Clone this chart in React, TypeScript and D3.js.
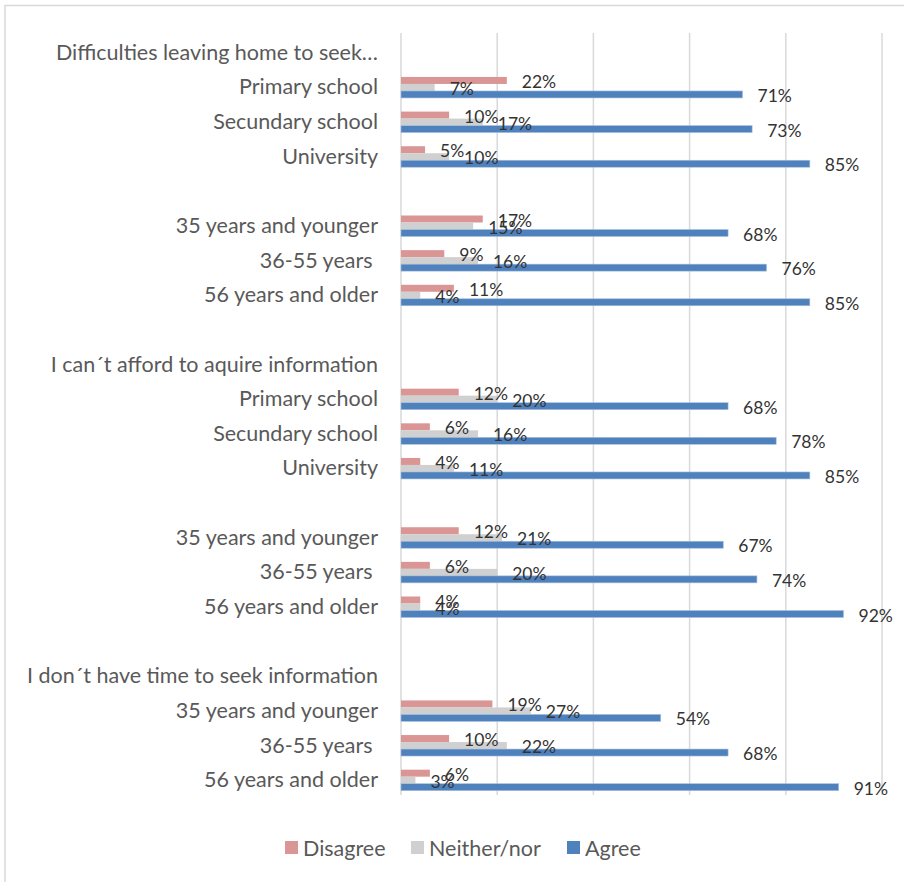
import React from "react";
import * as d3 from "d3";

const categories: string[] = [
  "Difficulties leaving home to seek…",
  "Primary school",
  "Secundary school",
  "University",
  "",
  "35 years and younger",
  "36-55 years ",
  "56 years and older",
  "",
  "I can´t afford to aquire information",
  "Primary school",
  "Secundary school",
  "University",
  "",
  "35 years and younger",
  "36-55 years ",
  "56 years and older",
  "",
  "I don´t have time to seek information",
  "35 years and younger",
  "36-55 years ",
  "56 years and older",
];

const disagree: (number | null)[] = [null, 22, 10, 5, null, 17, 9, 11, null, null, 12, 6, 4, null, 12, 6, 4, null, null, 19, 10, 6];
const neither: (number | null)[] = [null, 7, 17, 10, null, 15, 16, 4, null, null, 20, 16, 11, null, 21, 20, 4, null, null, 27, 22, 3];
const agree: (number | null)[] = [null, 71, 73, 85, null, 68, 76, 85, null, null, 68, 78, 85, null, 67, 74, 92, null, null, 54, 68, 91];

const seriesNames = ["Disagree", "Neither/nor", "Agree"];
const seriesColors = ["#DA9694", "#D0D0D0", "#4F81BD"];
const xTicks = [0, 20, 40, 60, 80, 100];

const FONT = "Lato, 'Open Sans', sans-serif";

export default function App() {
  const W = 904;
  const H = 882;
  const x = d3.scaleLinear().domain([0, 100]).range([401, 882]);
  const y = d3
    .scaleBand<string>()
    .domain(categories.map((_, i) => String(i)))
    .range([34, 796])
    .padding(0);
  const inner = d3.scaleBand<string>().domain(["0", "1", "2"]).range([-10.5, 10.5]).padding(0);
  const series = [disagree, neither, agree];

  return (
    <svg
      width={W}
      height={H}
      style={{ position: "absolute", left: 0, top: 0, background: "#fff" }}
      fontFamily={FONT}
    >
      <rect x={5} y={5.5} width={W + 10} height={H + 10} fill="#fff" stroke="#D9D9D9" strokeWidth={1.5} />
      {xTicks.map((t) => (
        <line key={t} x1={x(t)} x2={x(t)} y1={33} y2={795} stroke="#D9D9D9" strokeWidth={1.5} />
      ))}
      {categories.map((c, i) => (
        <text
          key={"c" + i}
          x={378}
          y={(y(String(i)) ?? 0) + y.bandwidth() / 2 + 0.5}
          textAnchor="end"
          dominantBaseline="central"
          fontSize={21.5}
          fill="#595959"
          style={{ whiteSpace: "pre" }}
        >
          {c}
        </text>
      ))}
      {series.map((vals, s) =>
        vals.map((v, i) => {
          if (v == null) return null;
          const cy = (y(String(i)) ?? 0) + y.bandwidth() / 2 + 1.5 + (inner(String(s)) ?? 0);
          return (
            <rect
              key={`b${s}-${i}`}
              x={x(0)}
              y={cy}
              width={x(v) - x(0)}
              height={inner.bandwidth()}
              fill={seriesColors[s]}
              stroke={s === 2 ? "#A9C0DE" : "none"}
              strokeWidth={s === 2 ? 0.6 : 0}
            />
          );
        })
      )}
      {series.map((vals, s) =>
        vals.map((v, i) => {
          if (v == null) return null;
          const cy = (y(String(i)) ?? 0) + y.bandwidth() / 2 + 1.5 + (inner(String(s)) ?? 0) + inner.bandwidth() / 2;
          return (
            <text
              key={`l${s}-${i}`}
              x={x(v) + 15}
              y={cy + 1}
              dominantBaseline="central"
              fontSize={17.5}
              fill="#333333"
            >
              {v + "%"}
            </text>
          );
        })
      )}
      {seriesNames.map((n, s) => {
        const lx = [285, 411, 567][s];
        return (
          <g key={n}>
            <rect x={lx} y={841} width={13} height={13} fill={seriesColors[s]} />
            <text x={lx + 18} y={847.5} dominantBaseline="central" fontSize={21.5} fill="#595959">
              {n}
            </text>
          </g>
        );
      })}
    </svg>
  );
}
